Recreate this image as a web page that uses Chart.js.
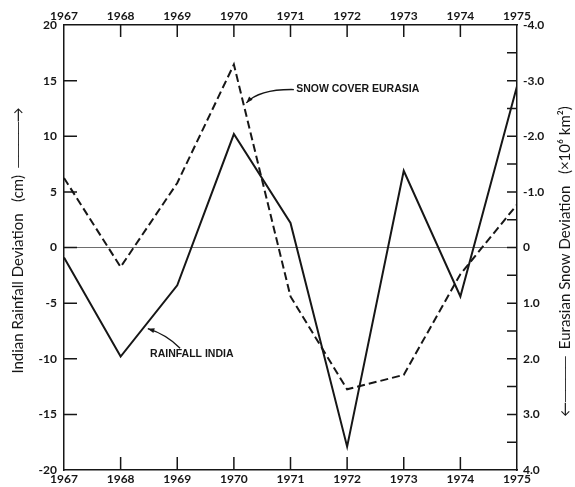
<!DOCTYPE html>
<html>
<head>
<meta charset="utf-8">
<script src="https://cdn.jsdelivr.net/npm/chart.js@4.4.1/dist/chart.umd.min.js"></script>
<style>
  html, body { margin: 0; padding: 0; background: #fff; }
  #wrap { width: 575px; height: 487px; }
</style>
</head>
<body>
<div id="wrap"><canvas id="chart" width="575" height="487"></canvas></div>
<script>
// Indian rainfall deviation (cm, left axis) vs Eurasian snow cover deviation
// (x10^6 km2, right axis, drawn upside down), 1967-1975
const years = [1967, 1968, 1969, 1970, 1971, 1972, 1973, 1974, 1975];
const rainfallIndia = [-0.9, -9.8, -3.4, 10.2, 2.2, -17.9, 6.9, -4.4, 14.5];
const snowEurasia = [-1.25, 0.35, -1.16, -3.29, 0.88, 2.55, 2.29, 0.48, -0.77];

const rainTicks = [20, 15, 10, 5, 0, -5, -10, -15, -20];
const snowTicks = [-4, -3.5, -3, -2.5, -2, -1.5, -1, -0.5, 0, 0.5, 1, 1.5, 2, 2.5, 3, 3.5, 4];
const snowTickLabels = ["-4.0", "-3.0", "-2.0", "-1.0", "0", "1.0", "2.0", "3.0", "4.0"];

const leftTitle = "Indian Rainfall Deviation   (cm)  \u2500\u2500\u2500\u2500\u2192";
const rightTitle = "\u2190\u2500\u2500\u2500\u2500  Eurasian Snow Deviation   (\u00d710\u2076 km\u00b2)";

const ink = "#161616";
const tickFont = { family: 'Lato, "DejaVu Sans", sans-serif', size: 12, weight: "bold" };
const titleFont = '15px Lato, "DejaVu Sans", sans-serif';
const labelFont = 'bold 10.5px "Liberation Sans Narrow", "Liberation Sans", Arial, sans-serif';

// short tick marks pointing into the plot box
const inwardTicks = {
  id: "inwardTicks",
  afterDatasetsDraw(chart) {
    const { ctx, chartArea: a, scales } = chart;
    ctx.save();
    ctx.strokeStyle = ink;
    ctx.lineWidth = 1.5;
    ctx.beginPath();
    scales.y.ticks.forEach(t => {
      if (t.value <= -20 || t.value >= 20) return;
      const p = scales.y.getPixelForValue(t.value);
      ctx.moveTo(a.left, p);
      ctx.lineTo(a.left + 13, p);
    });
    scales.y2.ticks.forEach(t => {
      if (t.value <= -4 || t.value >= 4) return;
      const p = scales.y2.getPixelForValue(t.value);
      ctx.moveTo(a.right, p);
      ctx.lineTo(a.right - 10, p);
    });
    scales.x.ticks.forEach(t => {
      if (t.value <= 1967 || t.value >= 1975) return;
      const p = scales.x.getPixelForValue(t.value);
      ctx.moveTo(p, a.bottom);
      ctx.lineTo(p, a.bottom - 13);
      ctx.moveTo(p, a.top);
      ctx.lineTo(p, a.top + 12);
    });
    ctx.stroke();
    ctx.restore();
  }
};

// curve labels with leader arrows (placed in data units) and both axis titles
const curveLabels = {
  id: "curveLabels",
  afterDraw(chart) {
    const { ctx, scales } = chart;
    const X = v => scales.x.getPixelForValue(v);
    const Y = v => scales.y.getPixelForValue(v);

    function leader(x0, y0, cx, cy, x1, y1) {
      ctx.beginPath();
      ctx.moveTo(X(x0), Y(y0));
      ctx.quadraticCurveTo(X(cx), Y(cy), X(x1), Y(y1));
      ctx.stroke();
      const ang = Math.atan2(Y(y1) - Y(cy), X(x1) - X(cx));
      const len = 7;
      ctx.beginPath();
      ctx.moveTo(X(x1), Y(y1));
      ctx.lineTo(X(x1) - len * Math.cos(ang - 0.35), Y(y1) - len * Math.sin(ang - 0.35));
      ctx.lineTo(X(x1) - len * Math.cos(ang + 0.35), Y(y1) - len * Math.sin(ang + 0.35));
      ctx.closePath();
      ctx.fill();
    }

    function sideTitle(text, x, y) {
      ctx.save();
      ctx.translate(x, y);
      ctx.rotate(-Math.PI / 2);
      ctx.textAlign = "center";
      ctx.textBaseline = "middle";
      ctx.font = titleFont;
      ctx.fillText(text, 0, 0);
      ctx.restore();
    }

    ctx.save();
    ctx.fillStyle = ink;
    ctx.strokeStyle = ink;
    ctx.lineWidth = 1.3;
    ctx.font = labelFont;
    ctx.textBaseline = "middle";
    ctx.textAlign = "left";

    ctx.fillText("SNOW COVER EURASIA", X(1971.1), Y(14.2));
    leader(1971.06, 14.2, 1970.45, 14.25, 1970.22, 13.0);

    ctx.fillText("RAINFALL INDIA", X(1968.52), Y(-9.6));
    leader(1969.05, -9.05, 1968.8, -7.8, 1968.48, -7.3);

    const mid = (scales.y.top + scales.y.bottom) / 2;
    sideTitle(leftTitle, 18, mid - 7);
    sideTitle(rightTitle, chart.width - 10, mid + 14);
    ctx.restore();
  }
};

const points = vals => years.map((y, i) => ({ x: y, y: vals[i] }));
const frame = { display: true, color: ink, width: 1.5 };
const noGrid = { display: true, drawOnChartArea: false, drawTicks: false };

new Chart(document.getElementById("chart"), {
  type: "line",
  data: {
    datasets: [
      {
        label: "RAINFALL INDIA",
        data: points(rainfallIndia),
        xAxisID: "x",
        yAxisID: "y",
        borderColor: ink,
        borderWidth: 2,
        borderJoinStyle: "miter",
        pointRadius: 0,
        tension: 0,
        fill: false
      },
      {
        label: "SNOW COVER EURASIA",
        data: points(snowEurasia),
        xAxisID: "x",
        yAxisID: "y2",
        borderColor: ink,
        borderWidth: 2,
        borderDash: [8, 4],
        borderJoinStyle: "miter",
        pointRadius: 0,
        tension: 0,
        fill: false
      }
    ]
  },
  options: {
    responsive: false,
    animation: false,
    events: [],
    layout: { padding: 0 },
    plugins: { legend: { display: false }, tooltip: { enabled: false } },
    scales: {
      x: {
        type: "linear",
        position: "bottom",
        min: 1967,
        max: 1975,
        afterBuildTicks: s => { s.ticks = years.map(v => ({ value: v })); },
        afterFit: s => { s.height = 17; },
        ticks: { autoSkip: false, maxRotation: 0, padding: 2, color: ink, font: tickFont, callback: v => String(v) },
        grid: noGrid,
        border: frame
      },
      x2: {
        type: "linear",
        position: "top",
        min: 1967,
        max: 1975,
        afterBuildTicks: s => { s.ticks = years.map(v => ({ value: v })); },
        afterFit: s => { s.height = 25; },
        ticks: { autoSkip: false, maxRotation: 0, padding: 2, color: ink, font: tickFont, callback: v => String(v) },
        grid: noGrid,
        border: frame
      },
      y: {
        type: "linear",
        position: "left",
        min: -20,
        max: 20,
        afterBuildTicks: s => { s.ticks = rainTicks.map(v => ({ value: v })); },
        afterFit: s => { s.width = 64; },
        ticks: { padding: 7, color: ink, font: tickFont, callback: v => String(v) },
        grid: {
          display: true,
          drawTicks: false,
          drawOnChartArea: true,
          lineWidth: 1,
          color: c => (c.tick && c.tick.value === 0 ? "#6e6e6e" : "rgba(0,0,0,0)")
        },
        border: frame
      },
      y2: {
        type: "linear",
        position: "right",
        reverse: true,
        min: -4,
        max: 4,
        afterBuildTicks: s => { s.ticks = snowTicks.map(v => ({ value: v })); },
        afterFit: s => { s.width = 58; },
        ticks: {
          padding: 6,
          color: ink,
          font: tickFont,
          callback: v => (Number.isInteger(v) ? snowTickLabels[v + 4] : "")
        },
        grid: noGrid,
        border: frame
      }
    }
  },
  plugins: [inwardTicks, curveLabels]
});
</script>
</body>
</html>
